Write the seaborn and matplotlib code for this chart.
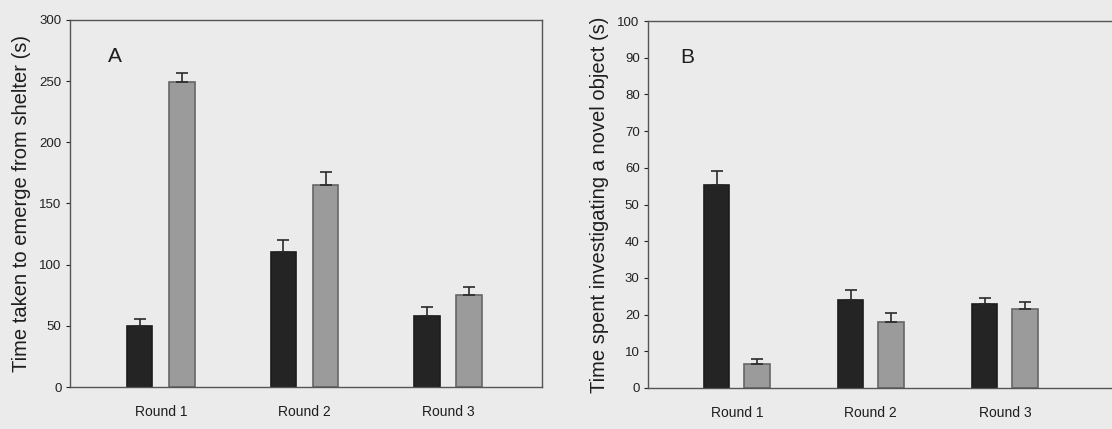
import numpy as np
import pandas as pd
import matplotlib
matplotlib.use("Agg")
import matplotlib.pyplot as plt
import seaborn as sns

# Data
rounds = ["Round 1", "Round 2", "Round 3"]
groups = ["dark", "light"]

# Panel A: time taken to emerge from shelter (s)
emerge_dark = [50, 110, 58]
emerge_dark_se = [5.5, 10, 7]
emerge_light = [249, 165, 75]
emerge_light_se = [8, 11, 7]

# Panel B: time spent investigating a novel object (s)
novel_dark = [55.3, 24, 22.8]
novel_dark_se = [3.7, 2.7, 1.8]
novel_light = [6.5, 18, 21.4]
novel_light_se = [1.5, 2.4, 2.0]

bg = "#ebebeb"
bar_colors = {"dark": "#242424", "light": "#9b9b9b"}
edge_colors = {"dark": "#1c1c1c", "light": "#666666"}

sns.set_style("white")
plt.rcParams["font.family"] = ["Liberation Sans", "DejaVu Sans"]


def make_df(dark, light, dark_se, light_se):
    return pd.DataFrame({
        "round": rounds * 2,
        "group": ["dark"] * 3 + ["light"] * 3,
        "value": list(dark) + list(light),
        "se": list(dark_se) + list(light_se),
    })


def draw_panel(ax, df, width, gap, ylim, yticks, ylabel, letter, letter_x, xlim):
    ax.set_facecolor(bg)
    sns.barplot(data=df, x="round", y="value", hue="group", hue_order=groups,
                order=rounds, palette=bar_colors, width=width, gap=gap,
                errorbar=None, legend=False, ax=ax, linewidth=1.2)
    # edges and upper error bars
    for patch, (_, row) in zip(ax.patches, df.iterrows()):
        patch.set_edgecolor(edge_colors[row["group"]])
        x = patch.get_x() + patch.get_width() / 2
        ax.errorbar(x, row["value"], yerr=[[0], [row["se"]]], fmt="none",
                    ecolor="#2a2a2a", elinewidth=1.2, capsize=4, capthick=1.2)
    ax.set_ylim(*ylim)
    ax.set_yticks(yticks)
    ax.set_xlim(*xlim)
    ax.set_xlabel("")
    ax.set_ylabel(ylabel, fontsize=14.5, color="#1e1e1e", labelpad=6)
    ax.tick_params(axis="x", length=0, pad=13, labelsize=10, colors="#1e1e1e")
    ax.tick_params(axis="y", length=3, width=0.8, direction="out", pad=3,
                   labelsize=9.5, colors="#222222", left=True)
    for s in ax.spines.values():
        s.set_color("#555555")
        s.set_linewidth(1.0)
    ax.text(letter_x, 0.9, letter, transform=ax.transAxes, fontsize=15,
            color="#1e1e1e", va="center", ha="center")


fig = plt.figure(figsize=(11.12, 4.29), dpi=100, facecolor=bg)

axA = fig.add_axes([0.0629, 0.0979, 0.4245, 0.8555])
dfA = make_df(emerge_dark, emerge_light, emerge_dark_se, emerge_light_se)
draw_panel(axA, dfA, 0.59, 0.4, (0, 300), np.arange(0, 301, 50),
           "Time taken to emerge from shelter (s)", "A", 0.095, (-0.634, 2.655))

axB = fig.add_axes([0.5827, 0.0956, 0.4173, 0.8554])
dfB = make_df(novel_dark, novel_light, novel_dark_se, novel_light_se)
draw_panel(axB, dfB, 0.60, 0.37, (0, 100), np.arange(0, 101, 10),
           "Time spent investigating a novel object (s)", "B", 0.085, (-0.664, 2.8))
axB.spines["right"].set_visible(False)

fig.savefig("out.png", dpi=100, facecolor=bg)
